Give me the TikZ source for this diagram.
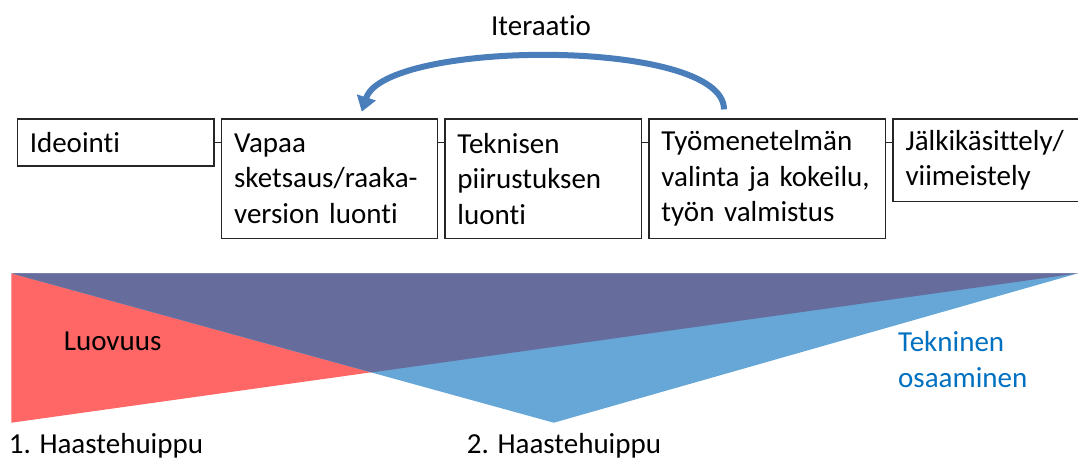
\documentclass[tikz,border=0pt]{standalone}
\usepackage{fontspec}
\setmainfont{Carlito}[Ligatures=NoCommon]
\usetikzlibrary{positioning,arrows.meta}
\definecolor{iterblue}{RGB}{74,126,187}
\definecolor{luovred}{RGB}{255,102,102}
\definecolor{teknblue}{RGB}{102,167,216}
\definecolor{mixviolet}{RGB}{102,108,156}
\definecolor{tekntext}{RGB}{0,112,192}
\definecolor{boxgray}{RGB}{38,38,38}
\newcommand{\phasefont}{\fontsize{29pt}{35.5pt}\selectfont\hyphenpenalty=10000\exhyphenpenalty=10000}
\tikzset{
  phase/.style={
      draw=boxgray,
      line width=1.3pt,
      align=left,
      inner xsep=12.5pt,
      inner ysep=0pt,
      font=\phasefont
      },
  caption/.style={anchor=base west, inner sep=0pt, font=\phasefont},
  link/.style={draw=boxgray, line width=1.3pt}
}

\begin{document}
\begin{tikzpicture}[x=1pt,y=-1pt]
\clip (0,0) rectangle (1078,461);
\coordinate (tl) at (11.4,273.3);
\coordinate (bl) at (11.4,422.7);
\coordinate (tr) at (1078,273.3);
\coordinate (bottom) at (553.8,422.7);
\coordinate (cross) at (371.9,372.4);
\fill[luovred] (tl) -- (bl) -- (tr) -- cycle;
\fill[teknblue] (tl) -- (tr) -- (bottom) -- cycle;
\fill[mixviolet] (tl) -- (cross) -- (tr) -- cycle;

\node[phase, text width=171.7pt, minimum height=47pt, anchor=north west] (ideo) at (16.6,118.4) {Ideointi};
\node[phase, text width=190.6pt, minimum height=119.3pt, right=6.4pt of ideo.north east, anchor=north west] (vapaa) {Vapaa\\sketsaus/raaka-\\version luonti};
\node[phase, text width=171.3pt, minimum height=119.3pt, right=6.4pt of vapaa.north east, anchor=north west] (tekn) {Teknisen\\piirustuksen\\luonti};
\node[phase, text width=211.4pt, minimum height=119.3pt, right=6.4pt of tekn.north east, anchor=north west] (tyo) {Työmenetelmän\\valinta ja kokeilu,\\työn valmistus};
\node[phase, text width=186pt, minimum height=82.7pt, right=6.4pt of tyo.north east, anchor=north west] (jalki) {Jälkikäsittely/\\viimeistely};

\draw[link] (ideo.east) -- (ideo.east -| vapaa.west);
\draw[link] (ideo.east -| vapaa.east) -- (ideo.east -| tekn.west);
\draw[link] (ideo.east -| tekn.east) -- (ideo.east -| tyo.west);
\draw[link] (ideo.east -| tyo.east) -- (ideo.east -| jalki.west);

\coordinate (iterstart) at ([xshift=75.7pt,yshift=9pt]tyo.north west);
\coordinate (itertip) at ([xshift=140.8pt,yshift=6.7pt]vapaa.north west);
\draw[iterblue, line width=6pt, -{Triangle[length=15pt,width=19pt]}]
  (iterstart) .. controls +(0,-72) and +(23,-72) .. (itertip);
\node[caption, anchor=base] (iter) at (541,35) {Iteraatio};

\node[caption] (luov) at (63.7,350.7) {Luovuus};
\node[caption, text=tekntext] (teknlbl) at (898,351.7) {Tekninen};
\node[caption, text=tekntext] (osaalbl) at (898,387.7) {osaaminen};
\node[caption] (peak1) at (8.6,453) {1. Haastehuippu};
\node[caption] (peak2) at (466.6,453) {2. Haastehuippu};
\end{tikzpicture}
\end{document}
